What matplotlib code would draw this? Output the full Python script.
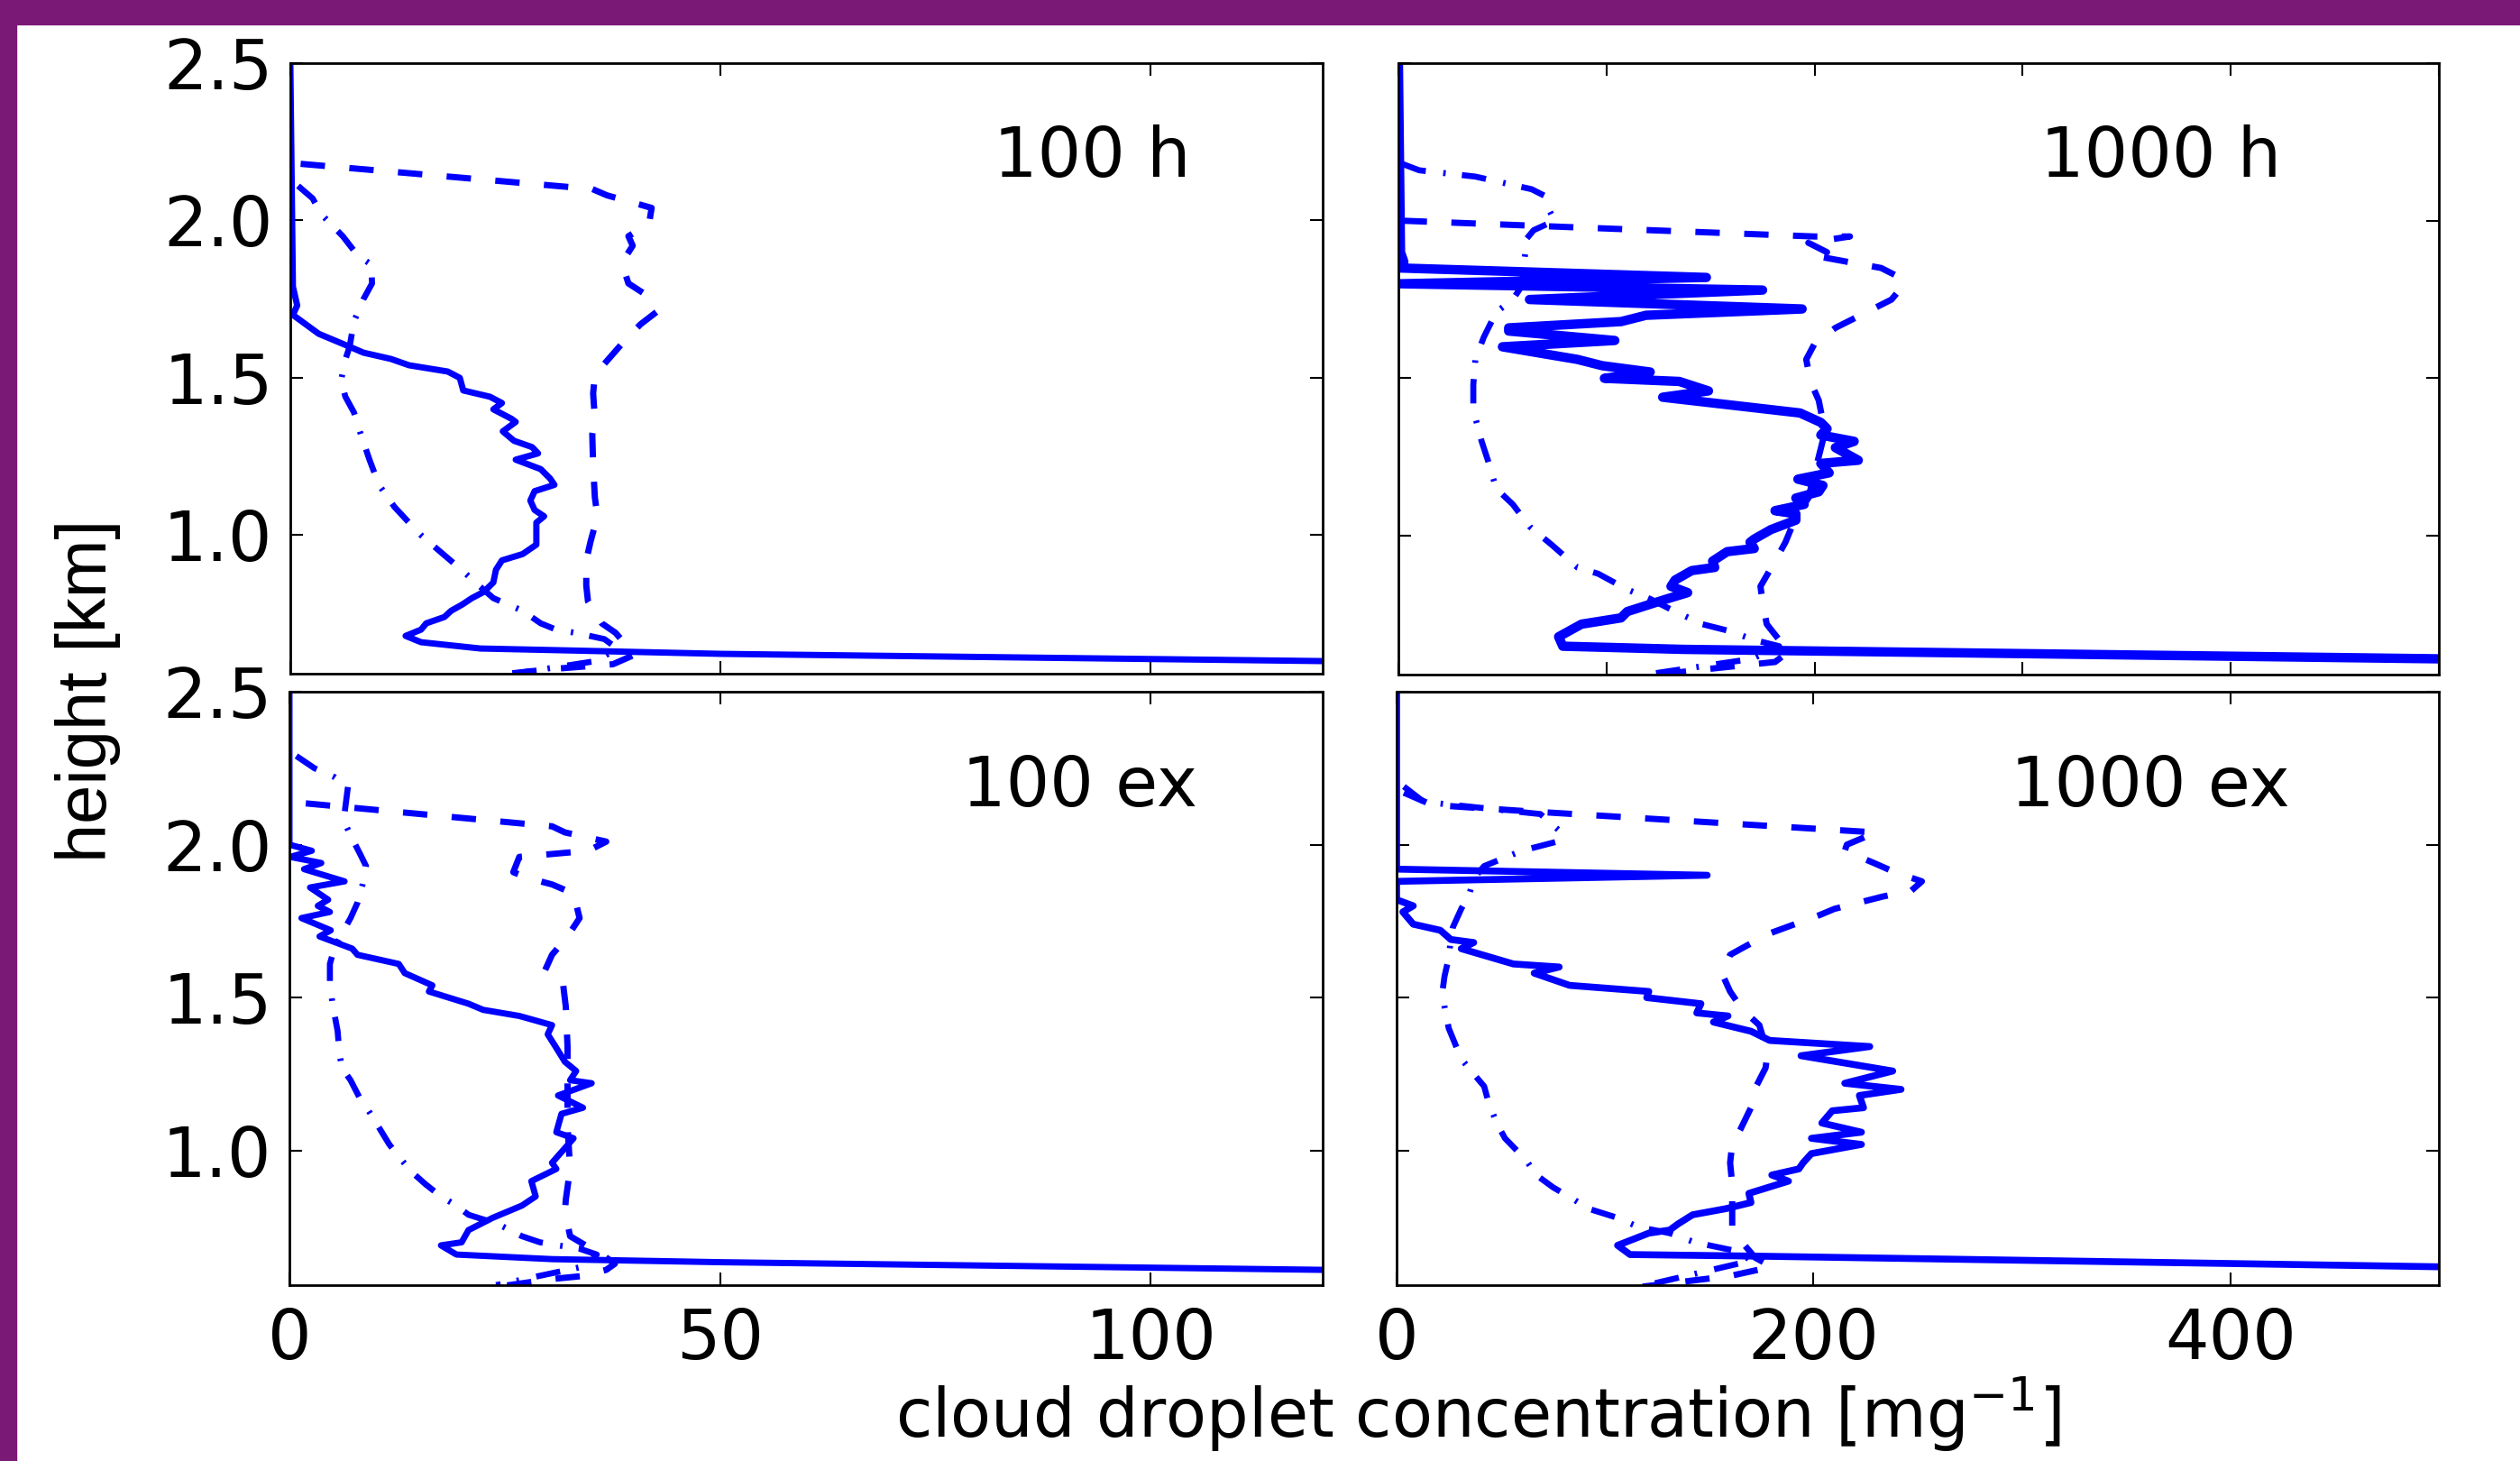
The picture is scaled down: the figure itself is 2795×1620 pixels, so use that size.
import numpy as np
import matplotlib
matplotlib.use('Agg')
import matplotlib.pyplot as plt
from matplotlib.patches import Rectangle

plt.rcParams['font.family'] = 'DejaVu Sans'
plt.rcParams['mathtext.default'] = 'regular'
plt.rcParams['lines.scale_dashes'] = False

# ---- data: cloud droplet concentration [mg^-1] vs height [km] ----
# 100 h
tl_solid_h = [2.5, 1.79, 1.73, 1.70, 1.64, 1.60, 1.58, 1.56, 1.54, 1.52, 1.50, 1.46, 1.44, 1.42, 1.40, 1.37,
              1.36, 1.33, 1.30, 1.28, 1.26, 1.24, 1.21, 1.18, 1.16, 1.14, 1.11, 1.08, 1.06, 1.04, 0.97, 0.94,
              0.92, 0.89, 0.85, 0.82, 0.80, 0.78, 0.76, 0.74, 0.72, 0.70, 0.68, 0.66, 0.64, 0.635, 0.623, 0.60]
tl_solid_c = [0, 0.3, 0.8, 0.3, 3.3, 6.8, 8.5, 11.7, 13.8, 18.3, 19.7, 20.1, 23.2, 24.6, 23.6, 25.7,
              26.2, 24.7, 26.0, 28.1, 28.8, 26.2, 29.1, 30.2, 30.7, 28.4, 27.9, 28.4, 29.5, 28.6, 28.6, 27.0,
              24.6, 23.9, 23.6, 22.5, 21.1, 20.0, 18.7, 17.9, 15.8, 15.2, 13.4, 15.2, 22.1, 30.5, 50, 120]
tl_dash_h = [2.18, 2.10, 2.08, 2.04, 1.99, 1.95, 1.92, 1.89, 1.86, 1.80, 1.77, 1.71, 1.67, 1.61, 1.56, 1.51,
             1.45, 1.37, 1.32, 1.22, 1.12, 1.06, 0.98, 0.92, 0.84, 0.79, 0.72, 0.69, 0.62, 0.59, 0.575, 0.55]
tl_dash_c = [1.2, 35.1, 36.8, 42, 41.7, 39.3, 39.8, 39.1, 38.6, 39.3, 41, 42.6, 40.7, 38.6, 37, 35.4,
             35.2, 35.4, 35.1, 35.2, 35.4, 35.7, 34.9, 34.4, 34.4, 34.6, 36.2, 37.8, 40, 37.5, 30.5, 22]
tl_dd_h = [2.11, 2.07, 2.02, 1.95, 1.89, 1.86, 1.80, 1.75, 1.68, 1.60, 1.55, 1.49, 1.44, 1.39, 1.32, 1.24,
           1.16, 1.09, 1.04, 1.00, 0.96, 0.89, 0.85, 0.80, 0.78, 0.76, 0.72, 0.70, 0.69, 0.67, 0.64, 0.60, 0.56]
tl_dd_c = [0.9, 2.6, 3.6, 6.1, 7.8, 9.4, 9.5, 8.5, 7.4, 6.9, 6.3, 5.9, 6.4, 7.4, 8.2, 9.2,
           10.3, 12.1, 13.8, 15.2, 16.9, 19.9, 21.5, 23.6, 25.3, 27, 29.1, 30.9, 33.1, 36.5, 38, 35.5, 26]

# 1000 h
tr_solid_h = [2.5, 1.90, 1.87, 1.85, 1.82, 1.80, 1.78, 1.75, 1.72, 1.70, 1.68, 1.66, 1.65, 1.62, 1.60, 1.56,
              1.54, 1.52, 1.50, 1.49, 1.46, 1.44, 1.39, 1.36, 1.34, 1.32, 1.30, 1.28, 1.24, 1.23, 1.20, 1.18,
              1.16, 1.14, 1.12, 1.10, 1.08, 1.07, 1.05, 1.02, 0.99, 0.98, 0.96, 0.95, 0.92, 0.90, 0.89, 0.86,
              0.84, 0.82, 0.80, 0.76, 0.74, 0.72, 0.68, 0.65, 0.64, 0.61]
tr_solid_c = [0, 1, 2.6, 0.8, 148, 1, 175, 63, 194, 119, 107, 53, 53, 104, 50, 86,
              98, 121, 99, 135, 149, 127, 193, 203, 206, 203, 219, 210, 221, 203, 207, 192,
              204, 202, 191, 195, 181, 191, 191, 179, 171, 169, 171, 158, 151, 152, 141, 133,
              131, 139, 129, 110, 107, 88, 77, 79, 137, 500]
tr_dash_h = [2.00, 1.95, 1.95, 1.93, 1.90, 1.89, 1.85, 1.82, 1.79, 1.75, 1.72, 1.66, 1.61, 1.56, 1.49,
             1.43, 1.33, 1.12, 1.06, 0.98, 0.92, 0.84, 0.79, 0.72, 0.67, 0.63, 0.60, 0.58, 0.56]
tr_dash_c = [2, 200, 217, 197, 206, 199, 232, 241, 242, 237, 228, 210, 200, 196, 198,
             202, 205, 197, 191, 186, 181, 174, 175, 177, 183, 187, 181, 152, 125]
tr_dd_h = [2.18, 2.16, 2.14, 2.10, 2.08, 2.04, 2.00, 1.97, 1.93, 1.90, 1.79, 1.75, 1.71, 1.63, 1.56, 1.48,
           1.40, 1.30, 1.24, 1.15, 1.10, 1.03, 0.97, 0.90, 0.88, 0.83, 0.80, 0.76, 0.72, 0.70, 0.67, 0.65,
           0.61, 0.56]
tr_dd_c = [2, 10, 37, 64, 70, 72, 75, 65, 60, 61, 59, 55, 47, 41, 37, 36,
           36, 40, 43, 47, 55, 63, 74, 86, 96, 110, 121, 133, 146, 158, 171, 183,
           170, 119]

# 100 ex
bl_solid_h = [2.5, 2.00, 1.98, 1.96, 1.94, 1.92, 1.88, 1.86, 1.82, 1.80, 1.78, 1.76, 1.72, 1.70, 1.66, 1.64,
              1.61, 1.58, 1.54, 1.52, 1.48, 1.46, 1.44, 1.41, 1.38, 1.34, 1.29, 1.26, 1.23, 1.22, 1.18, 1.14,
              1.12, 1.06, 1.04, 0.96, 0.94, 0.90, 0.85, 0.82, 0.78, 0.74, 0.70, 0.69, 0.66, 0.645, 0.635, 0.61]
bl_solid_c = [0, 0, 2.6, 0.1, 3.7, 1.7, 6.4, 2.4, 4.5, 3.3, 4.7, 1.4, 4.8, 3.5, 7.3, 7.9,
              12.7, 13.4, 16.6, 16.2, 20.8, 22.5, 26.7, 30.5, 30, 30.9, 32, 33.3, 32.6, 35.1, 31.2, 34.1,
              31.6, 31, 33, 30.5, 31, 28.1, 28.6, 27, 23.6, 20.8, 20, 17.6, 19.4, 30.5, 50, 120]
bl_dash_h = [2.135, 2.06, 2.04, 2.01, 1.98, 1.96, 1.91, 1.89, 1.87, 1.84, 1.76, 1.70, 1.64, 1.59, 1.54,
             1.47, 1.34, 1.22, 1.08, 0.94, 0.84, 0.80, 0.72, 0.69, 0.67, 0.63, 0.61, 0.59, 0.58, 0.55]
bl_dash_c = [1.9, 30.5, 32, 36.8, 34.7, 26.7, 26, 27.8, 30.5, 33, 33.7, 32.3, 30.5, 29.7, 31.8,
             32.1, 32.3, 32.3, 32.3, 32.6, 32.1, 32, 32.6, 34.4, 35.8, 37.8, 36.8, 34.1, 30.5, 23]
bl_dd_h = [2.29, 2.25, 2.22, 2.19, 2.08, 2.03, 1.97, 1.93, 1.87, 1.81, 1.76, 1.71, 1.66, 1.61, 1.55, 1.48,
           1.39, 1.32, 1.27, 1.23, 1.17, 1.13, 1.08, 1.02, 0.98, 0.93, 0.89, 0.85, 0.82, 0.79, 0.76, 0.72,
           0.70, 0.69, 0.68, 0.66, 0.62, 0.56]
bl_dd_c = [0.8, 2.9, 5.3, 6.8, 6.3, 7.1, 8.2, 8.9, 8.5, 7.9, 7.1, 6.1, 5.2, 4.7, 4.7, 5.0,
           5.6, 5.8, 6.1, 7.1, 8.2, 9.2, 10.3, 11.6, 12.7, 14.2, 15.8, 17.6, 19.4, 20.8, 24.2, 27,
           29.1, 31.2, 33.6, 35.7, 34, 24]

# 1000 ex
br_solid_h = [2.5, 1.92, 1.90, 1.88, 1.82, 1.80, 1.78, 1.74, 1.72, 1.69, 1.68, 1.66, 1.61, 1.60, 1.58, 1.54,
              1.52, 1.50, 1.48, 1.45, 1.44, 1.42, 1.39, 1.36, 1.34, 1.31, 1.26, 1.22, 1.20, 1.18, 1.14, 1.13,
              1.09, 1.06, 1.04, 1.02, 0.99, 0.96, 0.94, 0.92, 0.90, 0.86, 0.83, 0.81, 0.79, 0.76, 0.74, 0.73,
              0.69, 0.66, 0.655, 0.62]
br_solid_c = [0, 0, 149, 0, 0, 8, 3, 8, 21, 26, 37, 31, 56, 78, 66, 83,
              121, 120, 146, 144, 159, 152, 170, 179, 227, 194, 238, 215, 242, 222, 224, 209,
              204, 223, 199, 223, 199, 195, 193, 180, 188, 169, 170, 158, 142, 135, 131, 121,
              106, 112, 171, 500]
br_dash_h = [2.17, 2.13, 2.11, 2.04, 2.00, 1.98, 1.94, 1.91, 1.88, 1.85, 1.83, 1.79, 1.77, 1.74, 1.71, 1.67,
             1.64, 1.58, 1.52, 1.46, 1.41, 1.32, 1.27, 1.19, 1.14, 1.07, 1.02, 0.96, 0.89, 0.79, 0.75, 0.69,
             0.65, 0.62, 0.59, 0.555]
br_dash_c = [3.5, 17, 61, 230, 216, 215, 229, 239, 252, 247, 233, 210, 203, 191, 179, 168,
             160, 156, 160, 166, 174, 178, 177, 171, 170, 165, 161, 160, 161, 161, 161, 167,
             172, 180, 160, 118]
br_dd_h = [2.19, 2.14, 2.10, 2.04, 2.01, 1.98, 1.93, 1.89, 1.84, 1.79, 1.73, 1.69, 1.63, 1.57, 1.52, 1.47,
           1.40, 1.35, 1.30, 1.25, 1.21, 1.16, 1.09, 1.04, 0.97, 0.92, 0.88, 0.84, 0.81, 0.78, 0.75, 0.73,
           0.70, 0.69, 0.67, 0.64, 0.56]
br_dd_c = [3.5, 13, 69, 79, 77, 60, 42, 37, 35, 31, 27, 26, 25, 23, 22, 23,
           25, 28, 31, 37, 42, 44, 48, 52, 62, 67, 75, 85, 92, 106, 116, 131,
           143, 150, 164, 170, 120]

panel_names = ['100 h', '1000 h', '100 ex', '1000 ex']
x_max = [120, 500, 120, 500]
x_ticks = [[0, 50, 100], [0, 100, 200, 300, 400, 500], [0, 50, 100], [0, 200, 400]]
y_ticks = [1.0, 1.5, 2.0, 2.5]

series = [
    (tl_solid_c, tl_solid_h, tl_dash_c, tl_dash_h, tl_dd_c, tl_dd_h),
    (tr_solid_c, tr_solid_h, tr_dash_c, tr_dash_h, tr_dd_c, tr_dd_h),
    (bl_solid_c, bl_solid_h, bl_dash_c, bl_dash_h, bl_dd_c, bl_dd_h),
    (br_solid_c, br_solid_h, br_dash_c, br_dash_h, br_dd_c, br_dd_h),
]

W, H = 2795, 1620
fig = plt.figure(figsize=(W / 100, H / 100), dpi=100)

# purple frame on top and left
fig.patches.append(Rectangle((0, 1 - 27 / H), 1, 27 / H, transform=fig.transFigure,
                             color='#7b1977', zorder=0))
fig.patches.append(Rectangle((0, 0), 18 / W, 1, transform=fig.transFigure,
                             color='#7b1977', zorder=0))

# axes boxes in pixels: left, right, top, bottom
boxes = [(322, 1467, 70, 747), (1551, 2705, 70, 748),
         (321, 1467, 767, 1425), (1549, 2705, 767, 1425)]
solid_lw = [5.0, 7.5, 5.0, 5.5]
text_pos = [(0.777, 0.845), (0.733, 0.845), (0.765, 0.839), (0.723, 0.839)]

blue = '#0000ff'
for i, (l, r, t, b) in enumerate(boxes):
    ax = fig.add_axes([l / W, 1 - b / H, (r - l) / W, (b - t) / H])
    sc, sh, dc, dh, ddc, ddh = series[i]
    ax.plot(sc, sh, color=blue, lw=solid_lw[i], solid_joinstyle='round')
    ax.plot(dc, dh, color=blue, lw=5.0, dashes=(19.5, 19.5))
    ax.plot(ddc, ddh, color=blue, lw=4.8, dashes=(19.5, 14, 2, 13))

    ax.set_xlim(0, x_max[i])
    ax.set_ylim(0.56, 2.5)
    ax.set_xticks(x_ticks[i])
    ax.set_yticks(y_ticks)
    ax.tick_params(direction='in', length=10, width=1.5, top=True, right=True,
                   labelsize=55, pad=17)
    ax.tick_params(axis='y', pad=14)
    if i < 2:
        ax.set_xticklabels([])
    if i % 2 == 1:
        ax.set_yticklabels([])
    else:
        ax.set_yticklabels(['%.1f' % v for v in y_ticks])
    for s in ax.spines.values():
        s.set_linewidth(2)
    ax.text(text_pos[i][0], text_pos[i][1], panel_names[i], transform=ax.transAxes,
            ha='center', va='center', fontsize=55)

fig.text(98 / W, 1 - 766 / H, 'height [km]', rotation=90, ha='center', va='center',
         fontsize=56, family='Liberation Sans')
fig.text(1640 / W, 1 - 1594 / H, 'cloud droplet concentration [mg$^{-1}$]',
         ha='center', va='baseline', fontsize=53)

fig.savefig('out.png', dpi=100)
